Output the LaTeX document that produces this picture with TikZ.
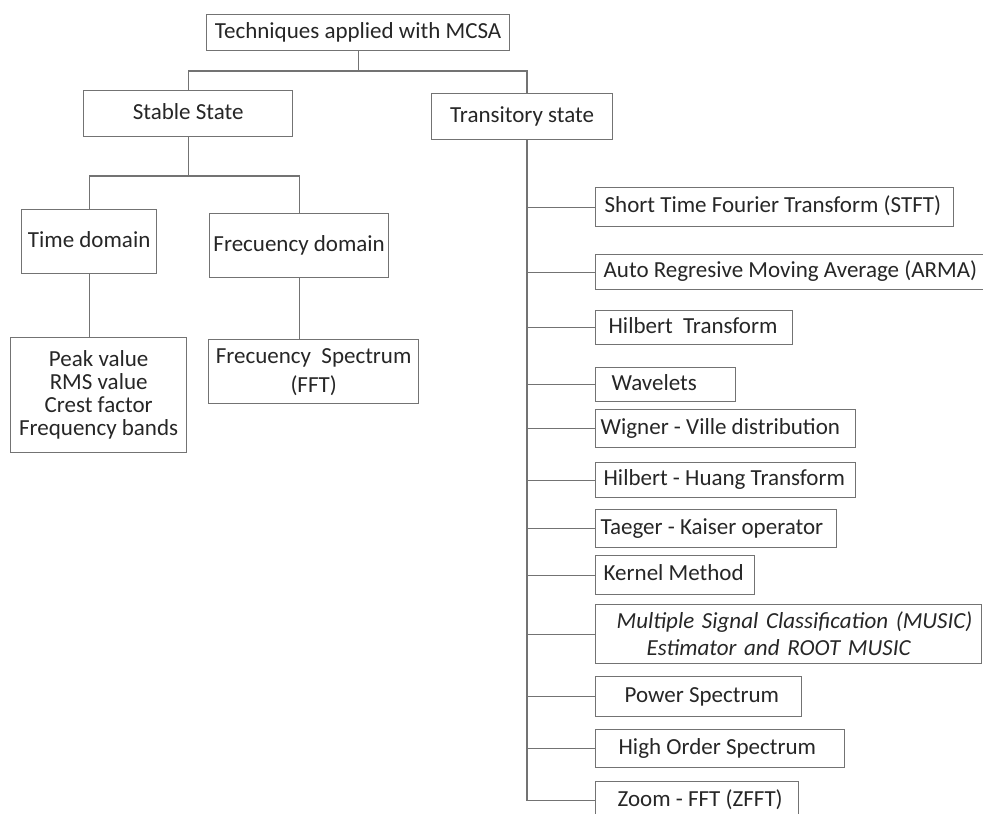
\documentclass[tikz,border=0pt]{standalone}
\usepackage{fontspec}
\setmainfont{Carlito}
\newcommand{\lboxnode}[7]{\node[box, minimum width=#4pt, minimum height=#5pt] (#1) at (#2,#3) {\makebox[#4pt][l]{\hspace{#6pt}\strut #7}};}
\begin{document}
\begin{tikzpicture}[x=1pt,y=-1pt,
  box/.style={draw=black!55, line width=1.3pt, rectangle, inner sep=0pt, anchor=north west, text=black!85, font=\fontsize{23}{28}\selectfont},
  conn/.style={draw=black!55, line width=1.3pt}]
\useasboundingbox (0,0) rectangle (983,814);
\clip (0,0) rectangle (983,814);

% main tree
\node[box, minimum width=303pt, minimum height=36pt] (top) at (206,14) {\strut Techniques applied with MCSA};
\node[box, minimum width=209pt, minimum height=46pt] (stable) at (83,90) {\strut Stable State};
\node[box, minimum width=181pt, minimum height=46pt] (trans) at (431,93) {\strut Transitory state};
\node[box, minimum width=135pt, minimum height=64pt] (timed) at (21,209) {\strut Time domain};
\node[box, minimum width=179pt, minimum height=64pt] (freqd) at (209,213) {\strut Frecuency domain};
\node[box, minimum width=176pt, minimum height=115pt, align=center, font=\fontsize{23}{23}\selectfont] (peak) at (10,337) {Peak value\\RMS value\\Crest factor\\Frequency bands};
\node[box, minimum width=210pt, minimum height=64pt, align=center, font=\fontsize{23}{29}\selectfont] (spec) at (208,339) {Frecuency\ \ Spectrum\\(FFT)};

% transitory list
\lboxnode{short}{595}{187}{358}{39}{9}{Short Time Fourier Transform (STFT)}
\lboxnode{auto}{595}{254}{400}{35}{8}{Auto Regresive Moving Average (ARMA)}
\lboxnode{hilb}{595}{310}{197}{34}{13}{Hilbert\ \ Transform}
\lboxnode{wave}{595}{367}{140}{34}{16}{Wavelets}
\lboxnode{wign}{595}{409}{260}{38}{5}{Wigner - Ville distribution}
\lboxnode{hh}{595}{462}{260}{35}{8}{Hilbert - Huang Transform}
\lboxnode{taeg}{595}{509}{241}{38}{5}{Taeger - Kaiser operator}
\lboxnode{kern}{595}{555}{159}{39}{8}{Kernel Method}
\node[box, minimum width=386pt, minimum height=59pt, text width=386pt, align=left, font=\fontsize{23}{27}\selectfont\itshape] (music) at (595,604) {\hspace*{21pt}Multiple Signal Classification (MUSIC)\\\hspace*{51pt}Estimator and ROOT MUSIC};
\lboxnode{power}{595}{676}{206}{40}{29}{Power Spectrum}
\lboxnode{high}{595}{729}{249}{38}{23}{High Order Spectrum}
\lboxnode{zfft}{595}{781}{203}{38}{22}{Zoom - FFT (ZFFT)}

% connectors
\coordinate (tx) at (527,0);
\coordinate (bar1) at (0,71);
\coordinate (bar2) at (0,176);
\draw[conn] (top.south) -- (top.south |- bar1);
\draw[conn] (stable.north) |- (bar1 -| tx) -- (trans.north -| tx);
\draw[conn] (stable.south) -- (stable.south |- bar2);
\draw[conn] (timed.north) |- (freqd.north |- bar2) -- (freqd.north);
\draw[conn] (timed.south) -- (timed.south |- peak.north);
\draw[conn] (freqd.south) -- (freqd.south |- spec.north);
\draw[conn] (trans.south -| tx) -- (zfft.west -| tx) -- (zfft.west);
\foreach \n in {short,auto,hilb,wave,wign,hh,taeg,kern,music,power,high}
  \draw[conn] (\n.west -| tx) -- (\n.west);
\end{tikzpicture}
\end{document}
